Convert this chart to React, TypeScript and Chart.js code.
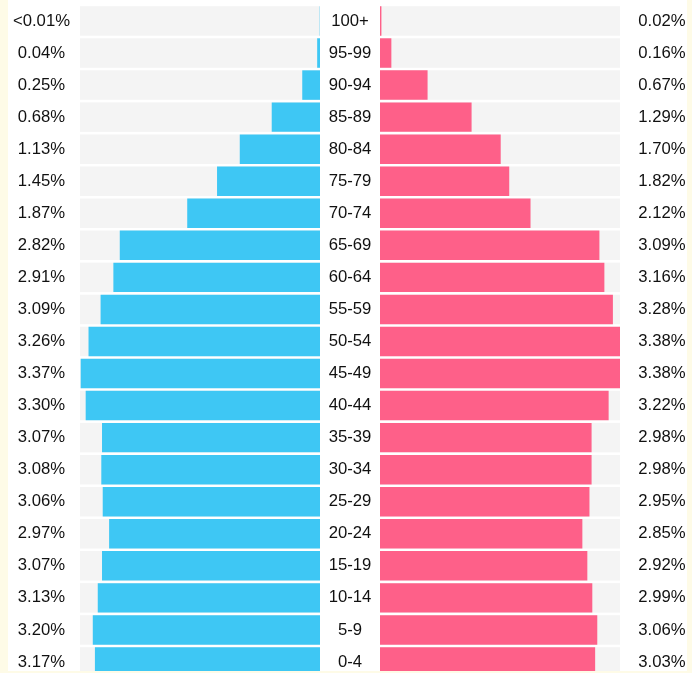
import React, { useEffect, useRef } from "react";
import { Chart, registerables } from "chart.js";

Chart.register(...registerables);

const AGE_GROUPS = [
  "100+", "95-99", "90-94", "85-89", "80-84", "75-79", "70-74", "65-69", "60-64", "55-59",
  "50-54", "45-49", "40-44", "35-39", "30-34", "25-29", "20-24", "15-19", "10-14", "5-9", "0-4",
];
const MALE = [
  0.004, 0.04, 0.25, 0.68, 1.13, 1.45, 1.87, 2.82, 2.91, 3.09,
  3.26, 3.37, 3.3, 3.07, 3.08, 3.06, 2.97, 3.07, 3.13, 3.2, 3.17,
];
const FEMALE = [
  0.02, 0.16, 0.67, 1.29, 1.7, 1.82, 2.12, 3.09, 3.16, 3.28,
  3.38, 3.38, 3.22, 2.98, 2.98, 2.95, 2.85, 2.92, 2.99, 3.06, 3.03,
];
const MALE_LABELS = [
  "<0.01%", "0.04%", "0.25%", "0.68%", "1.13%", "1.45%", "1.87%", "2.82%", "2.91%", "3.09%",
  "3.26%", "3.37%", "3.30%", "3.07%", "3.08%", "3.06%", "2.97%", "3.07%", "3.13%", "3.20%", "3.17%",
];
const FEMALE_LABELS = [
  "0.02%", "0.16%", "0.67%", "1.29%", "1.70%", "1.82%", "2.12%", "3.09%", "3.16%", "3.28%",
  "3.38%", "3.38%", "3.22%", "2.98%", "2.98%", "2.95%", "2.85%", "2.92%", "2.99%", "3.06%", "3.03%",
];
const AXIS_MAX = 3.38;

const FONT = { family: "'Liberation Sans', Arial, Helvetica, sans-serif", size: 16.7 };
const TEXT_COLOR = "#111111";
const BLUE = "#3ec7f4";
const PINK = "#fe6089";
const TRACK = "#f4f4f4";

const trackPlugin = {
  id: "tracks",
  beforeDatasetsDraw(chart: any) {
    const { ctx, chartArea } = chart;
    const meta = chart.getDatasetMeta(0);
    ctx.save();
    ctx.fillStyle = TRACK;
    meta.data.forEach((el: any) => {
      const { y, height } = el.getProps(["y", "height"], true);
      ctx.fillRect(chartArea.left, y - height / 2, chartArea.right - chartArea.left, height);
    });
    ctx.restore();
  },
};

function baseCategoryAxis(position: string, labels: string[], padding: number, width: number) {
  return {
    type: "category",
    position,
    offset: true,
    labels,
    grid: { display: false, drawTicks: false, offset: true },
    border: { display: false },
    ticks: {
      font: FONT,
      color: TEXT_COLOR,
      padding,
      crossAlign: "center",
      autoSkip: false,
    },
    afterFit: (s: any) => {
      s.width = width;
      s.paddingTop = 0;
      s.paddingBottom = 0;
    },
  };
}

export default function App() {
  const leftRef = useRef<HTMLCanvasElement | null>(null);
  const rightRef = useRef<HTMLCanvasElement | null>(null);

  useEffect(() => {
    if (!leftRef.current || !rightRef.current) return;
    const left = new Chart(leftRef.current, {
      type: "bar",
      data: {
        labels: MALE_LABELS,
        datasets: [
          {
            data: MALE,
            backgroundColor: BLUE,
            barPercentage: 1,
            categoryPercentage: 0.92,
            yAxisID: "y",
            borderWidth: 0,
          },
        ],
      },
      options: {
        indexAxis: "y",
        animation: false,
        responsive: false,
        layout: { padding: { top: 4.95, bottom: 0, left: 0, right: 0 } },
        plugins: { legend: { display: false }, tooltip: { enabled: false } },
        scales: {
          x: { type: "linear", min: 0, max: AXIS_MAX, reverse: true, display: false },
          y: baseCategoryAxis("left", MALE_LABELS, 10, 72),
          yAge: baseCategoryAxis("right", AGE_GROUPS, 8.7, 60),
        },
      } as any,
      plugins: [trackPlugin],
    });
    const right = new Chart(rightRef.current, {
      type: "bar",
      data: {
        labels: FEMALE_LABELS,
        datasets: [
          {
            data: FEMALE,
            backgroundColor: PINK,
            barPercentage: 1,
            categoryPercentage: 0.92,
            yAxisID: "y",
            borderWidth: 0,
          },
        ],
      },
      options: {
        indexAxis: "y",
        animation: false,
        responsive: false,
        layout: { padding: { top: 4.95, bottom: 0, left: 0, right: 0 } },
        plugins: { legend: { display: false }, tooltip: { enabled: false } },
        scales: {
          x: { type: "linear", min: 0, max: AXIS_MAX, display: false },
          y: baseCategoryAxis("right", FEMALE_LABELS, 18.3, 80),
        },
      } as any,
      plugins: [trackPlugin],
    });
    return () => {
      left.destroy();
      right.destroy();
    };
  }, []);

  return (
    <div
      style={{
        position: "fixed",
        left: 0,
        top: 0,
        width: 692,
        height: 673,
        background: "#fefbe7",
        overflow: "hidden",
      }}
    >
      <div
        style={{
          position: "absolute",
          left: 8,
          top: 0,
          width: 679,
          height: 671,
          background: "#ffffff",
          overflow: "hidden",
        }}
      >
        <canvas
          ref={leftRef}
          width={372}
          height={678}
          style={{ position: "absolute", left: 0, top: 0, width: 372, height: 678 }}
        />
        <canvas
          ref={rightRef}
          width={320}
          height={678}
          style={{ position: "absolute", left: 372, top: 0, width: 320, height: 678 }}
        />
      </div>
    </div>
  );
}
